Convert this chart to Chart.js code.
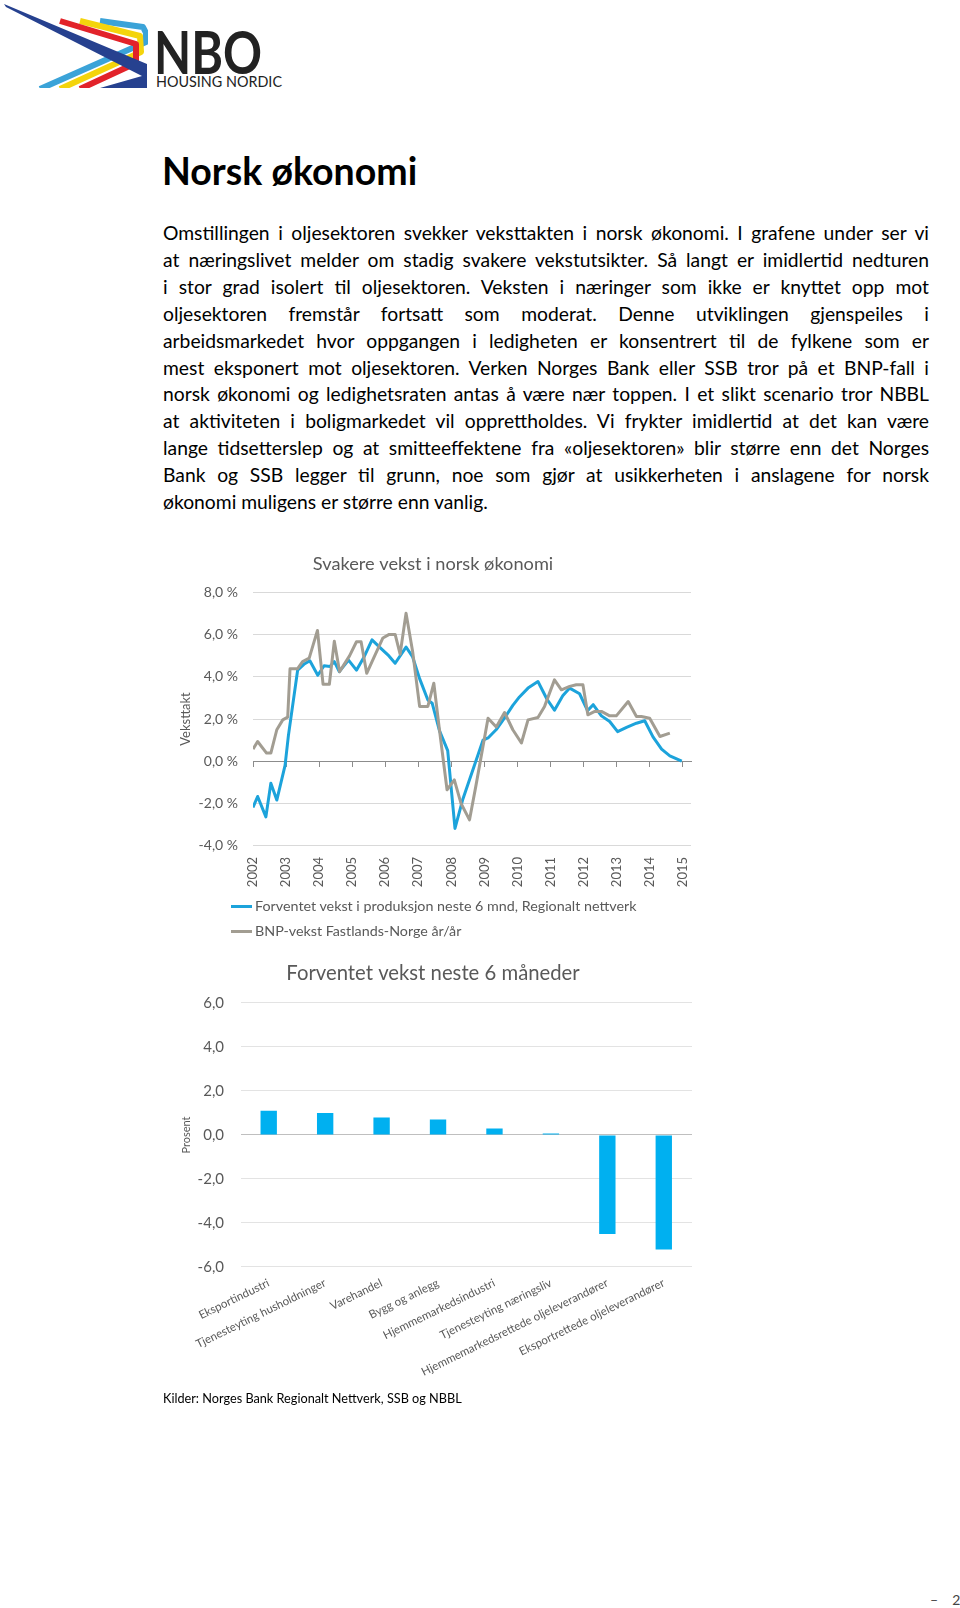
<!DOCTYPE html>
<html lang="no">
<head>
<meta charset="utf-8">
<title>Norsk økonomi</title>
<script src="https://cdn.jsdelivr.net/npm/chart.js@4.4.1/dist/chart.umd.min.js"></script>
<style>
  html, body { margin: 0; padding: 0; background: #fff; }
  body { width: 960px; height: 1608px; position: relative; overflow: hidden; font-family: Lato, 'Open Sans', sans-serif; color: #000; }
  .abs { position: absolute; }
  h1 { position: absolute; left: 162px; top: 149px; margin: 0; font-size: 37.5px; font-weight: 700; line-height: 44px; }
  .para { position: absolute; left: 163px; top: 220px; width: 766px; font-size: 19.3px; line-height: 26.9px; }
  .para div { text-align: justify; text-align-last: justify; }
  .para div.last { text-align-last: left; }
  canvas { position: absolute; }
  .legend { position: absolute; left: 231px; top: 893px; font-size: 14.3px; line-height: 25px; color: #595959; }
  .legend .sw { display: inline-block; width: 21px; height: 3px; vertical-align: middle; margin-right: 3px; position: relative; top: -1px; }
  .source { position: absolute; left: 163px; top: 1390px; font-size: 12.7px; line-height: 16px; }
  .pageno { position: absolute; left: 930px; top: 1591px; font-size: 14px; color: #444; white-space: nowrap; }
  .pageno span { margin-left: 14px; }
</style>
</head>
<body>

<svg class="abs" style="left:0;top:0" width="300" height="100" viewBox="0 0 300 100">
  <defs><clipPath id="lc"><rect x="0" y="0" width="148" height="88"/></clipPath></defs>
  <g clip-path="url(#lc)" fill="none" stroke-linejoin="round">
    <polyline points="100,21 143,27 146,33 146,42 40,89" stroke="#3BA3D8" stroke-width="6"/>
    <polyline points="80,21 140,36 141,52 60,89" stroke="#F4D40C" stroke-width="6"/>
    <polyline points="60,21 136,44 136,63 80,89" stroke="#E2232A" stroke-width="6"/>
    <polygon points="4,4 147,64 147,88 100,88 142,76 6,7" fill="#26418F"/>
  </g>
  <text x="154" y="74" font-family="Lato" font-weight="700" font-size="59" fill="#222" textLength="108" lengthAdjust="spacingAndGlyphs">NBO</text>
  <text x="156" y="87" font-family="Lato" font-size="16" fill="#222" textLength="126" lengthAdjust="spacingAndGlyphs">HOUSING NORDIC</text>
</svg>

<h1>Norsk økonomi</h1>

<div class="para">
  <div>Omstillingen i oljesektoren svekker veksttakten i norsk økonomi. I grafene under ser vi</div>
  <div>at næringslivet melder om stadig svakere vekstutsikter. Så langt er imidlertid nedturen</div>
  <div>i stor grad isolert til oljesektoren. Veksten i næringer som ikke er knyttet opp mot</div>
  <div>oljesektoren fremstår fortsatt som moderat. Denne utviklingen gjenspeiles i</div>
  <div>arbeidsmarkedet hvor oppgangen i ledigheten er konsentrert til de fylkene som er</div>
  <div>mest eksponert mot oljesektoren. Verken Norges Bank eller SSB tror på et BNP-fall i</div>
  <div>norsk økonomi og ledighetsraten antas å være nær toppen. I et slikt scenario tror NBBL</div>
  <div>at aktiviteten i boligmarkedet vil opprettholdes. Vi frykter imidlertid at det kan være</div>
  <div>lange tidsetterslep og at smitteeffektene fra «oljesektoren» blir større enn det Norges</div>
  <div>Bank og SSB legger til grunn, noe som gjør at usikkerheten i anslagene for norsk</div>
  <div class="last">økonomi muligens er større enn vanlig.</div>
</div>

<canvas id="growthChart" width="550" height="365" style="left:161px; top:535px"></canvas>
<div class="legend" id="growthLegend"></div>

<canvas id="sectorChart" width="540" height="470" style="left:160px; top:940px"></canvas>

<div class="source">Kilder: Norges Bank Regionalt Nettverk, SSB og NBBL</div>
<div class="pageno">–<span>2</span></div>

<script>
// Line chart data (year as decimal, value in %)
const regionLabel = 'Forventet vekst i produksjon neste 6 mnd, Regionalt nettverk';
const regionYears = [2002.00, 2002.14, 2002.39, 2002.54, 2002.72, 2002.97, 2003.07, 2003.35, 2003.54, 2003.72, 2003.96,
  2004.15, 2004.33, 2004.46, 2004.61, 2004.89, 2005.13, 2005.35, 2005.60, 2005.86, 2006.08, 2006.30, 2006.63, 2006.83,
  2007.04, 2007.29, 2007.42, 2007.64, 2007.89, 2008.11, 2008.34, 2008.96, 2009.11, 2009.36, 2009.61, 2009.86,
  2010.06, 2010.32, 2010.62, 2010.89, 2011.12, 2011.37, 2011.58, 2011.88, 2012.12, 2012.29, 2012.54, 2012.79,
  2013.03, 2013.30, 2013.60, 2013.85, 2014.10, 2014.36, 2014.61, 2014.97];
const regionValues = [-2.2, -1.68, -2.65, -1.05, -1.85, -0.2, 1.2, 4.32, 4.6, 4.77, 4.08,
  4.53, 4.5, 4.73, 4.25, 4.8, 4.32, 4.92, 5.76, 5.37, 5.05, 4.65, 5.42, 4.95,
  3.92, 2.9, 2.75, 1.45, 0.5, -3.2, -1.85, 1.0, 1.1, 1.5, 2.05, 2.65,
  3.05, 3.47, 3.78, 2.95, 2.42, 3.1, 3.47, 3.2, 2.4, 2.68, 2.15, 1.88,
  1.4, 1.6, 1.8, 1.92, 1.15, 0.57, 0.25, 0.0];

const gdpLabel = 'BNP-vekst Fastlands-Norge år/år';
const gdpYears = [2002.00, 2002.14, 2002.41, 2002.54, 2002.72, 2002.90, 2003.05, 2003.12, 2003.35, 2003.50, 2003.70, 2003.95,
  2004.12, 2004.31, 2004.46, 2004.62, 2004.92, 2005.13, 2005.27, 2005.44, 2005.68, 2005.93,
  2006.12, 2006.30, 2006.45, 2006.63, 2006.83, 2007.04, 2007.29, 2007.47, 2007.64, 2007.87,
  2008.09, 2008.29, 2008.55, 2008.74, 2009.11, 2009.36, 2009.61, 2009.86,
  2010.12, 2010.32, 2010.62, 2010.82, 2011.12, 2011.33, 2011.58, 2011.78, 2011.98,
  2012.13, 2012.34, 2012.54, 2012.79, 2012.99, 2013.35, 2013.60, 2013.75, 2014.00, 2014.31, 2014.61];
const gdpValues = [0.57, 0.93, 0.38, 0.38, 1.49, 1.96, 2.09, 4.39, 4.39, 4.73, 4.89, 6.21,
  3.65, 3.65, 5.7, 4.25, 5.0, 5.67, 5.67, 4.17, 5.0, 5.85,
  6.02, 6.02, 5.08, 7.03, 5.2, 2.6, 2.6, 3.7, 1.49, -1.36,
  -0.89, -2.0, -2.79, -1.2, 2.04, 1.62, 2.31, 1.49,
  0.86, 1.96, 2.07, 2.6, 3.86, 3.39, 3.55, 3.63, 3.63,
  2.2, 2.36, 2.36, 2.15, 2.15, 2.83, 2.12, 2.12, 2.04, 1.17, 1.33];

// Bar chart data
const sectors = ['Eksportindustri', 'Tjenesteyting husholdninger', 'Varehandel', 'Bygg og anlegg',
  'Hjemmemarkedsindustri', 'Tjenesteyting næringsliv', 'Hjemmemarkedsrettede oljeleverandører',
  'Eksportrettede oljeleverandører'];
const sectorValues = [1.1, 1.0, 0.8, 0.7, 0.3, 0.07, -4.5, -5.2];

const BLUE = '#1CA3DB';
const GREY = '#A29D92';
const BAR = '#00B0F0';
const TEXT = '#595959';
const comma = (v, d) => v.toFixed(d).replace('.', ',');

Chart.defaults.font.family = "Lato, 'Open Sans', sans-serif";
Chart.defaults.color = TEXT;

const toPoints = (xs, ys) => xs.map((x, i) => ({ x, y: ys[i] }));

// Svakere vekst i norsk økonomi
const growthChart = new Chart(document.getElementById('growthChart'), {
  type: 'line',
  data: {
    datasets: [
      { label: regionLabel, data: toPoints(regionYears, regionValues), borderColor: BLUE, backgroundColor: BLUE,
        borderWidth: 3, pointRadius: 0, borderJoinStyle: 'round', order: 1 },
      { label: gdpLabel, data: toPoints(gdpYears, gdpValues), borderColor: GREY, backgroundColor: GREY,
        borderWidth: 3, pointRadius: 0, borderJoinStyle: 'round', order: 0 }
    ]
  },
  options: {
    responsive: false,
    animation: false,
    layout: { padding: { left: 14, right: 20 } },
    plugins: {
      legend: { display: false },
      tooltip: { enabled: false },
      title: { display: true, text: 'Svakere vekst i norsk økonomi', color: TEXT,
        font: { size: 18.2, weight: 'normal' }, padding: { top: 18.1, bottom: 17.8 } }
    },
    scales: {
      x: {
        type: 'linear', min: 2002, max: 2015.25,
        grid: { display: false, drawTicks: false }, border: { display: false },
        ticks: { stepSize: 1, includeBounds: false, minRotation: 90, maxRotation: 90, padding: 11.7,
          font: { size: 13 }, callback: v => String(v) },
        afterFit: s => { s.height = 54.7; }
      },
      zero: {
        type: 'linear', axis: 'x', position: { y: 0 }, min: 2002, max: 2015.25,
        grid: { drawOnChartArea: false, tickLength: 5, color: '#8C8C8C' },
        border: { color: '#8C8C8C' },
        ticks: { display: false, stepSize: 1, includeBounds: false },
        afterFit: s => { s.height = 0; }
      },
      y: {
        min: -4, max: 8,
        ticks: { stepSize: 2, padding: 15, font: { size: 14 }, callback: v => comma(v, 1) + ' %' },
        grid: { drawTicks: false, color: c => c.tick.value === 0 ? 'rgba(0,0,0,0)' : '#D9D9D9' },
        border: { display: false },
        title: { display: true, text: 'Veksttakt', color: TEXT, font: { size: 13 }, padding: { top: 3.2, bottom: 0 } },
        afterFit: s => { s.width = 78; }
      }
    }
  }
});

// legend built from the chart's datasets
document.getElementById('growthLegend').innerHTML = growthChart.data.datasets
  .map(d => `<div><span class="sw" style="background:${d.borderColor}"></span>${d.label}</div>`).join('');

// Forventet vekst neste 6 måneder
new Chart(document.getElementById('sectorChart'), {
  type: 'bar',
  data: {
    labels: sectors,
    datasets: [{ label: 'Forventet vekst neste 6 måneder', data: sectorValues, backgroundColor: BAR,
      barPercentage: 0.29, categoryPercentage: 1 }]
  },
  options: {
    responsive: false,
    animation: false,
    layout: { padding: { left: 14, right: 8 } },
    plugins: {
      legend: { display: false },
      tooltip: { enabled: false },
      title: { display: true, text: 'Forventet vekst neste 6 måneder', color: TEXT,
        font: { size: 20.3, weight: 'normal' }, padding: { top: 20.8, bottom: 17.8 } }
    },
    scales: {
      x: {
        grid: { display: false, drawTicks: false }, border: { display: false },
        ticks: { autoSkip: false, minRotation: 26, maxRotation: 26, padding: 9, font: { size: 11.5 } },
        afterFit: s => { s.height = 143; }
      },
      y: {
        min: -6, max: 6,
        ticks: { stepSize: 2, padding: 16.5, font: { size: 15 }, callback: v => comma(v, 1) },
        grid: { drawTicks: false, color: c => c.tick.value === 0 ? '#BFBFBF' : '#E3E3E3' },
        border: { display: false },
        title: { display: true, text: 'Prosent', color: TEXT, font: { size: 11 }, padding: { top: 6.1, bottom: 0 } },
        afterFit: s => { s.width = 66.5; }
      }
    }
  }
});
</script>
</body>
</html>
